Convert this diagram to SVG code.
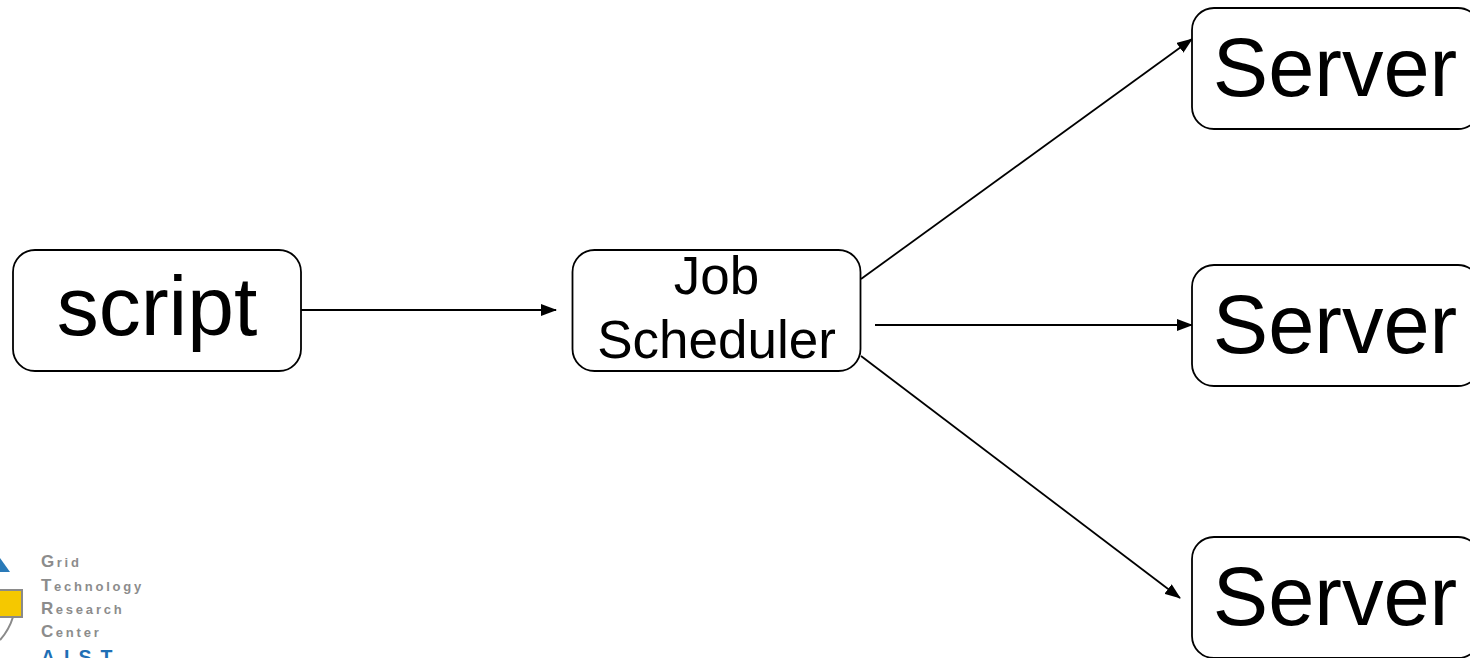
<svg xmlns="http://www.w3.org/2000/svg" width="1470" height="658" viewBox="0 0 1470 658">
<style>
.box{fill:#fff;stroke:#000;stroke-width:1.8}
.t{font-family:"Liberation Sans",Arial,sans-serif;fill:#000;text-anchor:middle}
.big{font-size:83px}
.scr{font-size:84px}
.mid{font-size:53px}
.c{stroke:#000;stroke-width:1.8;fill:none}
.g{font-family:"Liberation Sans",Arial,sans-serif;font-size:13px;fill:#8c8c8c;letter-spacing:2.8px;font-weight:bold}
.cap{font-size:17px;letter-spacing:2.5px}
</style>
<defs>
<marker id="a" markerUnits="userSpaceOnUse" markerWidth="16" markerHeight="12" refX="15" refY="6" orient="auto"><path d="M0 0L16 6L0 12Z" fill="#000"/></marker>
</defs>
<rect width="1470" height="658" fill="#fff"/>
<g id="connectors">
<path class="c" marker-end="url(#a)" d="M301 310H556"/>
<path class="c" marker-end="url(#a)" d="M861 279L1192 39"/>
<path class="c" marker-end="url(#a)" d="M875 325H1192"/>
<path class="c" marker-end="url(#a)" d="M861 356L1180 598"/>
</g>
<g id="script"><rect class="box" x="13" y="250" width="288" height="121" rx="22"/><text class="t scr" x="157" y="335">script</text></g>
<g id="scheduler"><rect class="box" x="572.500" y="250" width="288" height="121" rx="22"/><text class="t mid" x="716.500" y="293.500">Job</text><text class="t mid" x="716.500" y="358">Scheduler</text></g>
<g id="server1"><rect class="box" x="1192" y="8" width="288" height="121" rx="22"/><text class="t big" x="1335" y="96">Server</text></g>
<g id="server2"><rect class="box" x="1192" y="265" width="288" height="121" rx="22"/><text class="t big" x="1335" y="353">Server</text></g>
<g id="server3"><rect class="box" x="1192" y="537" width="288" height="121" rx="22"/><text class="t big" x="1335" y="625">Server</text></g>
<g id="logo">
<path d="M0 558L10 572H0Z" fill="#2a7ab8"/>
<rect x="-4" y="590" width="26" height="27" fill="#f5c800" stroke="#8a8a8a" stroke-width="2"/>
<path d="M13 617Q9 630 0 640" fill="none" stroke="#8a8a8a" stroke-width="2"/>
<text class="g" x="41" y="567"><tspan class="cap">G</tspan>rid</text>
<text class="g" x="41" y="591"><tspan class="cap">T</tspan>echnology</text>
<text class="g" x="41" y="614"><tspan class="cap">R</tspan>esearch</text>
<text class="g" x="41" y="637"><tspan class="cap">C</tspan>enter</text>
<text x="41" y="664" font-family="'Liberation Sans',Arial,sans-serif" font-size="19.500" font-weight="bold" letter-spacing="9" fill="#1f6fb5">AIST</text>
</g>
</svg>
